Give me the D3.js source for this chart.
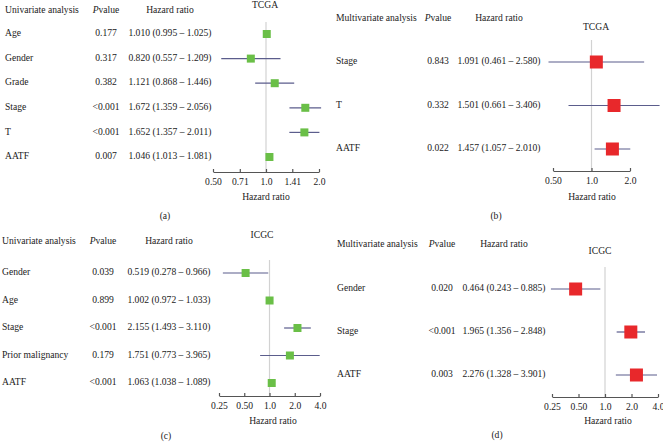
<!DOCTYPE html>
<html>
<head>
<meta charset="utf-8">
<script src="https://cdn.jsdelivr.net/npm/d3@7"></script>
<style>
  html, body { margin: 0; padding: 0; background: #fff; }
  svg { display: block; }
  text { font-family: "Liberation Serif", "DejaVu Serif", serif; fill: #222; }
</style>
</head>
<body>
<svg id="chart" width="663" height="448"></svg>
<script>
// ---- Data ----
// (a) TCGA univariate
const labelsA = ["Age", "Gender", "Grade", "Stage", "T", "AATF"];
const pA = ["0.177", "0.317", "0.382", "<0.001", "<0.001", "0.007"];
const hrA = [1.010, 0.820, 1.121, 1.672, 1.652, 1.046];
const loA = [0.995, 0.557, 0.868, 1.359, 1.357, 1.013];
const hiA = [1.025, 1.209, 1.446, 2.056, 2.011, 1.081];
const ticksA = [0.50, 0.71, 1.0, 1.41, 2.0];
const tickLabelsA = ["0.50", "0.71", "1.0", "1.41", "2.0"];

// (b) TCGA multivariate
const labelsB = ["Stage", "T", "AATF"];
const pB = ["0.843", "0.332", "0.022"];
const hrB = [1.091, 1.501, 1.457];
const loB = [0.461, 0.661, 1.057];
const hiB = [2.580, 3.406, 2.010];
const ticksB = [0.50, 1.0, 2.0];
const tickLabelsB = ["0.50", "1.0", "2.0"];

// (c) ICGC univariate
const labelsC = ["Gender", "Age", "Stage", "Prior malignancy", "AATF"];
const pC = ["0.039", "0.899", "<0.001", "0.179", "<0.001"];
const hrC = [0.519, 1.002, 2.155, 1.751, 1.063];
const loC = [0.278, 0.972, 1.493, 0.773, 1.038];
const hiC = [0.966, 1.033, 3.110, 3.965, 1.089];
const ticksC = [0.25, 0.50, 1.0, 2.0, 4.0];
const tickLabelsC = ["0.25", "0.50", "1.0", "2.0", "4.0"];

// (d) ICGC multivariate
const labelsD = ["Gender", "Stage", "AATF"];
const pD = ["0.020", "<0.001", "0.003"];
const hrD = [0.464, 1.965, 2.276];
const loD = [0.243, 1.356, 1.328];
const hiD = [0.885, 2.848, 3.901];
const ticksD = [0.25, 0.50, 1.0, 2.0, 4.0];
const tickLabelsD = ["0.25", "0.50", "1.0", "2.0", "4.0"];

const fmt = v => v.toFixed(3);

// ---- Layout (page coordinates) ----
const panels = [
  { head: "Univariate analysis", cohort: "TCGA", tag: "(a)",
    labels: labelsA, p: pA, hr: hrA, lo: loA, hi: hiA, ticks: ticksA, tickLabels: tickLabelsA,
    color: "#6abf47", box: 8,
    labelX: 5, headY: 11, pX: 106, hrX: 170, cohortX: 265, cohortY: 6,
    rowY: [34, 157], axisY: 172, xRange: [213, 319], refTop: 22,
    titleX: 266, titleY: 198, tagX: 165, tagY: 217 },
  { head: "Multivariate analysis", cohort: "TCGA", tag: "(b)",
    labels: labelsB, p: pB, hr: hrB, lo: loB, hi: hiB, ticks: ticksB, tickLabels: tickLabelsB,
    color: "#e8282b", box: 13,
    labelX: 336, headY: 19, pX: 438, hrX: 499, cohortX: 596, cohortY: 28,
    rowY: [62, 149], axisY: 171, xRange: [553, 630], refTop: 40,
    titleX: 592, titleY: 198, tagX: 496, tagY: 217 },
  { head: "Univariate analysis", cohort: "ICGC", tag: "(c)",
    labels: labelsC, p: pC, hr: hrC, lo: loC, hi: hiC, ticks: ticksC, tickLabels: tickLabelsC,
    color: "#6abf47", box: 8,
    labelX: 2, headY: 242, pX: 103, hrX: 169, cohortX: 262, cohortY: 236,
    rowY: [273, 383], axisY: 396, xRange: [219, 320], refTop: 260,
    titleX: 273, titleY: 422, tagX: 166, tagY: 437 },
  { head: "Multivariate analysis", cohort: "ICGC", tag: "(d)",
    labels: labelsD, p: pD, hr: hrD, lo: loD, hi: hiD, ticks: ticksD, tickLabels: tickLabelsD,
    color: "#e8282b", box: 13,
    labelX: 337, headY: 245, pX: 442, hrX: 504, cohortX: 600, cohortY: 252,
    rowY: [289, 375], axisY: 397, xRange: [552, 658], refTop: 267,
    titleX: 608, titleY: 422, tagX: 497, tagY: 436 }
];

const svg = d3.select("#chart");
const FS = 9.6;

panels.forEach(P => {
  const g = svg.append("g");
  const x = d3.scaleLog()
    .domain([P.ticks[0], P.ticks[P.ticks.length - 1]])
    .range(P.xRange);
  const y = d3.scalePoint().domain(P.labels).range(P.rowY);

  // headers
  g.append("text").attr("x", P.labelX).attr("y", P.headY)
    .attr("dominant-baseline", "middle").attr("font-size", FS).text(P.head);
  const pv = g.append("text").attr("x", P.pX).attr("y", P.headY)
    .attr("dominant-baseline", "middle").attr("text-anchor", "middle").attr("font-size", FS);
  pv.append("tspan").attr("font-style", "italic").text("P");
  pv.append("tspan").text("value");
  g.append("text").attr("x", P.hrX).attr("y", P.headY)
    .attr("dominant-baseline", "middle").attr("text-anchor", "middle").attr("font-size", FS)
    .text("Hazard ratio");
  g.append("text").attr("x", P.cohortX).attr("y", P.cohortY)
    .attr("dominant-baseline", "middle").attr("text-anchor", "middle").attr("font-size", FS)
    .text(P.cohort);

  // rows text
  P.labels.forEach((lab, i) => {
    const yy = y(lab);
    g.append("text").attr("x", P.labelX).attr("y", yy)
      .attr("dominant-baseline", "middle").attr("font-size", FS).text(lab);
    g.append("text").attr("x", P.pX).attr("y", yy)
      .attr("dominant-baseline", "middle").attr("text-anchor", "middle").attr("font-size", FS)
      .text(P.p[i]);
    g.append("text").attr("x", P.hrX).attr("y", yy)
      .attr("dominant-baseline", "middle").attr("text-anchor", "middle").attr("font-size", FS)
      .text(fmt(P.hr[i]) + " (" + fmt(P.lo[i]) + " \u2013 " + fmt(P.hi[i]) + ")");
  });

  // reference line at HR = 1
  g.append("line")
    .attr("x1", x(1)).attr("x2", x(1))
    .attr("y1", P.refTop).attr("y2", P.axisY)
    .attr("stroke", "#d2d2d2").attr("stroke-width", 1.2);

  // CI lines
  g.selectAll("line.ci").data(P.labels).enter().append("line")
    .attr("class", "ci")
    .attr("x1", (d, i) => x(P.lo[i])).attr("x2", (d, i) => x(P.hi[i]))
    .attr("y1", d => y(d)).attr("y2", d => y(d))
    .attr("stroke", "#5b5d8c").attr("stroke-width", 1.2);

  // boxes
  g.selectAll("rect.box").data(P.labels).enter().append("rect")
    .attr("class", "box")
    .attr("x", (d, i) => x(P.hr[i]) - P.box / 2)
    .attr("y", d => y(d) - P.box / 2)
    .attr("width", P.box).attr("height", P.box)
    .attr("fill", P.color);

  // axis
  const axis = d3.axisBottom(x)
    .tickValues(P.ticks)
    .tickFormat((d, i) => P.tickLabels[i])
    .tickSizeInner(-3).tickSizeOuter(0).tickPadding(6);
  const ag = g.append("g").attr("transform", `translate(0,${P.axisY})`).call(axis);
  ag.select(".domain").attr("stroke", "#555").attr("stroke-width", 1.2);
  ag.selectAll(".tick line").attr("stroke", "#555").attr("stroke-width", 1.2);
  ag.selectAll(".tick text")
    .attr("font-family", "Liberation Serif, DejaVu Serif, serif")
    .attr("font-size", FS).attr("fill", "#222");

  g.append("text").attr("x", P.titleX).attr("y", P.titleY)
    .attr("dominant-baseline", "middle").attr("text-anchor", "middle").attr("font-size", FS)
    .text("Hazard ratio");
  g.append("text").attr("x", P.tagX).attr("y", P.tagY)
    .attr("dominant-baseline", "middle").attr("text-anchor", "middle").attr("font-size", FS)
    .text(P.tag);
});
</script>
</body>
</html>
